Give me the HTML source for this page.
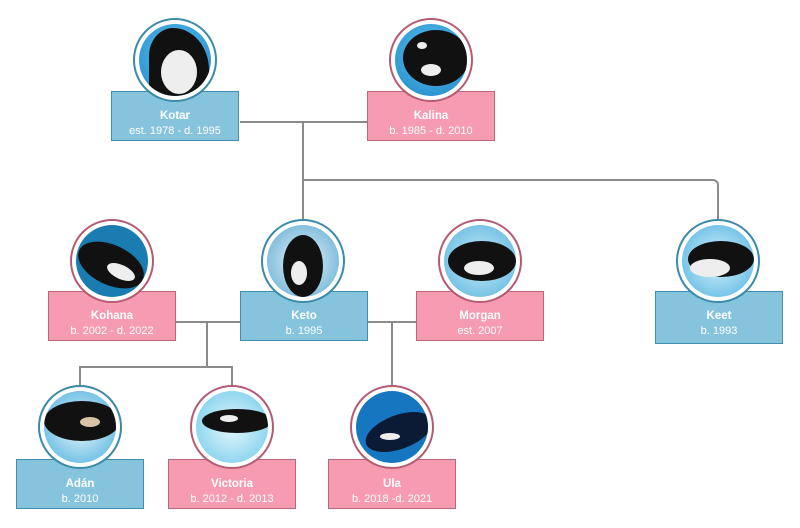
<!DOCTYPE html>
<html><head><meta charset="utf-8"><style>
body{margin:0;width:800px;height:528px;background:#fff;position:relative;overflow:hidden;font-family:"Liberation Sans",sans-serif}
.b{position:absolute;width:126px;height:48px;border:1.5px solid;color:#fff;text-align:center;font-size:11px;line-height:15px;box-sizing:content-box}
.b b{display:block;margin-top:17px;font-size:11.5px}
.bl{background:#86c4dd;border-color:#3e8fb0}
.pk{background:#f69bb0;border-color:#c0647c}
.c{position:absolute;width:80px;height:80px;border-radius:50%;border:2px solid;box-shadow:inset 0 0 0 3px #fff;overflow:hidden;background:#fff}
.c.cb{border-color:#3a8aa8}.c.cp{border-color:#b65a72}
.c .p{position:absolute;inset:4px;border-radius:50%;background:radial-gradient(circle at 50% 40%,#5fc3ef,#1c86c8);overflow:hidden}
.c .w{position:absolute;background:#111;border-radius:50%}
.c .e{position:absolute;background:#eee;border-radius:50%}
.l{position:absolute;background:#8a8a8a}
</style></head><body>
<div class="l" style="left:240px;top:121px;width:128px;height:2px"></div>
<div class="l" style="left:302px;top:122px;width:2px;height:100px"></div>
<div class="l" style="left:303px;top:179px;width:410px;height:2px"></div>
<div style="position:absolute;left:705px;top:179px;width:12px;height:12px;border-top:2px solid #8a8a8a;border-right:2px solid #8a8a8a;border-top-right-radius:6px"></div>
<div class="l" style="left:717px;top:190px;width:2px;height:30px"></div>
<div class="l" style="left:176px;top:321px;width:64px;height:2px"></div>
<div class="l" style="left:206px;top:322px;width:2px;height:45px"></div>
<div class="l" style="left:79px;top:366px;width:154px;height:2px"></div>
<div class="l" style="left:79px;top:366px;width:2px;height:20px"></div>
<div class="l" style="left:231px;top:366px;width:2px;height:20px"></div>
<div class="l" style="left:368px;top:321px;width:48px;height:2px"></div>
<div class="l" style="left:391px;top:322px;width:2px;height:64px"></div>

<!-- boxes -->
<div class="b bl" style="left:111px;top:91px"><b>Kotar</b>est. 1978 - d. 1995</div>
<div class="b pk" style="left:367px;top:91px"><b>Kalina</b>b. 1985 - d. 2010</div>
<div class="b pk" style="left:48px;top:291px"><b>Kohana</b>b. 2002 - d. 2022</div>
<div class="b bl" style="left:240px;top:291px"><b>Keto</b>b. 1995</div>
<div class="b pk" style="left:416px;top:291px"><b>Morgan</b>est. 2007</div>
<div class="b bl" style="left:655px;top:291px;height:51px"><b>Keet</b>b. 1993</div>
<div class="b bl" style="left:16px;top:459px"><b>Adán</b>b. 2010</div>
<div class="b pk" style="left:168px;top:459px"><b>Victoria</b>b. 2012 - d. 2013</div>
<div class="b pk" style="left:328px;top:459px"><b>Ula</b>b. 2018 -d. 2021</div>

<!-- circles -->
<div class="c cb" style="left:133px;top:18px"><div class="p"><div class="w" style="left:10px;top:4px;width:60px;height:70px;border-radius:40% 60% 20% 20%"></div><div class="e" style="left:22px;top:26px;width:36px;height:44px"></div></div></div>
<div class="c cp" style="left:389px;top:18px"><div class="p"><div class="w" style="left:8px;top:6px;width:66px;height:56px"></div><div class="e" style="left:26px;top:40px;width:20px;height:12px"></div><div class="e" style="left:22px;top:18px;width:10px;height:7px"></div></div></div>
<div class="c cp" style="left:70px;top:219px"><div class="p" style="background:#1a7cb0"><div class="w" style="left:0;top:20px;width:70px;height:40px;transform:rotate(25deg)"></div><div class="e" style="left:30px;top:40px;width:30px;height:14px;transform:rotate(25deg)"></div></div></div>
<div class="c cb" style="left:261px;top:219px"><div class="p" style="background:radial-gradient(#eaf6fc,#5aa8d0)"><div class="w" style="left:16px;top:10px;width:40px;height:62px"></div><div class="e" style="left:24px;top:36px;width:16px;height:24px"></div></div></div>
<div class="c cp" style="left:438px;top:219px"><div class="p" style="background:radial-gradient(#c8ecf8,#58b2de)"><div class="w" style="left:4px;top:16px;width:68px;height:40px"></div><div class="e" style="left:20px;top:36px;width:30px;height:14px"></div></div></div>
<div class="c cb" style="left:676px;top:219px"><div class="p" style="background:radial-gradient(#d8f2fb,#4fb2e0)"><div class="w" style="left:6px;top:16px;width:66px;height:36px"></div><div class="e" style="left:8px;top:34px;width:40px;height:18px"></div></div></div>
<div class="c cb" style="left:38px;top:385px"><div class="p" style="background:radial-gradient(#e6f6fc,#4aaedc)"><div class="w" style="left:0;top:10px;width:76px;height:40px"></div><div class="e" style="left:36px;top:26px;width:20px;height:10px;background:#d8c2a8"></div></div></div>
<div class="c cp" style="left:190px;top:385px"><div class="p" style="background:radial-gradient(#e6f8fc,#6cc8ea)"><div class="w" style="left:6px;top:18px;width:70px;height:24px"></div><div class="e" style="left:24px;top:24px;width:18px;height:7px"></div></div></div>
<div class="c cp" style="left:350px;top:385px"><div class="p" style="background:#1677c0"><div class="w" style="left:8px;top:24px;width:70px;height:34px;transform:rotate(-20deg);background:#0b1b36"></div><div class="e" style="left:24px;top:42px;width:20px;height:7px"></div></div></div>
</body></html>
